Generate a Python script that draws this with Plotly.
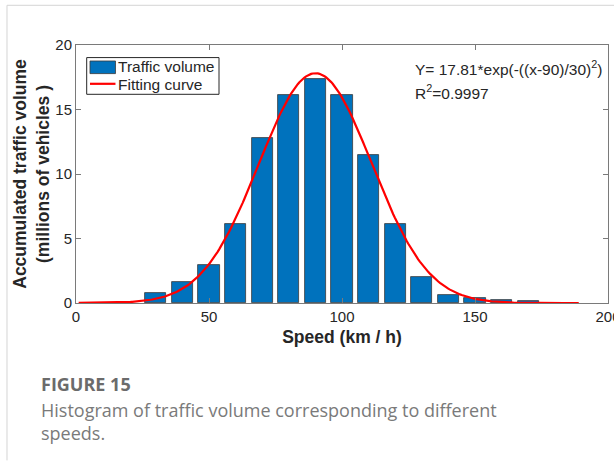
import numpy as np
import plotly.graph_objects as go

# Histogram data: speed bins (km/h) and accumulated traffic volume (millions of vehicles)
speeds = [30, 40, 50, 60, 70, 80, 90, 100, 110, 120, 130, 140, 150, 160, 170]
volume = [0.8, 1.6, 2.95, 6.15, 12.8, 16.15, 17.4, 16.1, 11.45, 6.15, 2.0, 0.65, 0.4, 0.25, 0.15]

# Gaussian fit parameters: Y = a*exp(-((x-b)/c)^2)
fit_a, fit_b, fit_c = 17.81, 90, 30
fit_r2 = 0.9997
fit_x = np.linspace(1, 189, 300)
fit_y = fit_a * np.exp(-((fit_x - fit_b) / fit_c) ** 2)

x_ticks = [0, 50, 100, 150, 200]
y_ticks = [0, 5, 10, 15, 20]

series_names = ["Traffic volume", "Fitting curve"]
bar_color = "#0072BD"
fit_color = "#FF0000"

font_main = "Liberation Sans, Arial, sans-serif"
axis_col = "#7a7a7a"
text_col = "#262626"

fig = go.Figure()
fig.add_trace(go.Bar(
    x=speeds, y=volume, width=8, name=series_names[0], showlegend=False,
    marker=dict(color=bar_color, line=dict(color="#3a3a3a", width=0.8)),
))
fig.add_trace(go.Scatter(
    x=fit_x, y=fit_y, mode="lines", name=series_names[1], showlegend=False,
    line=dict(color=fit_color, width=2.2),
))

axis_common = dict(
    showgrid=False, zeroline=False, showline=True, linecolor=axis_col, linewidth=1,
    mirror="ticks", ticks="inside", ticklen=5, tickcolor=axis_col,
    ticklabeloverflow="allow", automargin=False,
    tickfont=dict(family=font_main, size=15, color=text_col),
)

fig.update_xaxes(range=[0, 200], tickvals=x_ticks, **axis_common,
                 title=dict(text="<b>Speed (km / h)</b>", standoff=6,
                            font=dict(family=font_main, size=17.5, color=text_col)))
fig.update_yaxes(range=[0, 20], tickvals=y_ticks, **axis_common,
                 title=dict(text="<b>Accumulated traffic volume<br>(millions of vehicles )</b>", standoff=1,
                            font=dict(family=font_main, size=17.5, color=text_col)))

# Legend box drawn in the upper-left corner of the axes
fig.add_shape(type="rect", xref="paper", yref="paper", x0=0.0201, x1=0.2688, y0=0.8089, y1=0.9512,
              line=dict(color=text_col, width=1), fillcolor="white", layer="above")
fig.add_shape(type="rect", xref="paper", yref="paper", x0=0.0263, x1=0.0742, y0=0.8891, y1=0.938,
              line=dict(color="#3a3a3a", width=0.8), fillcolor=bar_color, layer="above")
fig.add_shape(type="line", xref="paper", yref="paper", x0=0.0263, x1=0.0742, y0=0.8496, y1=0.8496,
              line=dict(color=fit_color, width=2.2), layer="above")
for name, ypos in zip(series_names, [0.9174, 0.8477]):
    fig.add_annotation(xref="paper", yref="paper", x=0.0752, y=ypos, xanchor="left", yanchor="middle",
                       text=name, showarrow=False,
                       font=dict(family=font_main, size=15.5, color=text_col))

fig.add_annotation(
    xref="paper", yref="paper", x=0.634, y=0.912, xanchor="left", yanchor="middle",
    text=f"Y= {fit_a}*exp(-((x-{fit_b})/{fit_c})<sup>2</sup>)", showarrow=False,
    font=dict(family=font_main, size=15.5, color=text_col),
)
fig.add_annotation(
    xref="paper", yref="paper", x=0.634, y=0.818, xanchor="left", yanchor="middle",
    text=f"R<sup>2</sup>={fit_r2}", showarrow=False,
    font=dict(family=font_main, size=15.5, color=text_col),
)

# Figure caption below the chart
fig.add_annotation(
    xref="paper", yref="paper", x=-0.0695, y=-0.315, xanchor="left", yanchor="middle",
    text="<b>FIGURE 15</b>", showarrow=False,
    font=dict(family="Open Sans, sans-serif", size=18, color="#6b6b6b"),
)
fig.add_annotation(
    xref="paper", yref="paper", x=-0.0695, y=-0.4585, xanchor="left", yanchor="middle", align="left",
    text="Histogram of traffic volume corresponding to different<br>speeds.", showarrow=False,
    font=dict(family="Open Sans, sans-serif", size=18, color="#7a7a7a"),
)

# Card border (top and left edges)
fig.add_shape(type="line", xref="paper", yref="paper", x0=-0.1297, x1=1.2, y0=1.1539, y1=1.1539,
              line=dict(color="#d4d4d4", width=1))
fig.add_shape(type="line", xref="paper", yref="paper", x0=-0.1297, x1=-0.1297, y0=1.1539, y1=-0.61,
              line=dict(color="#d4d4d4", width=1))

fig.update_layout(
    width=614, height=468,
    margin=dict(l=76, r=6, t=45, b=165),
    paper_bgcolor="white", plot_bgcolor="white",
    bargap=0,
    showlegend=False,
)

fig.write_html("out.html")
